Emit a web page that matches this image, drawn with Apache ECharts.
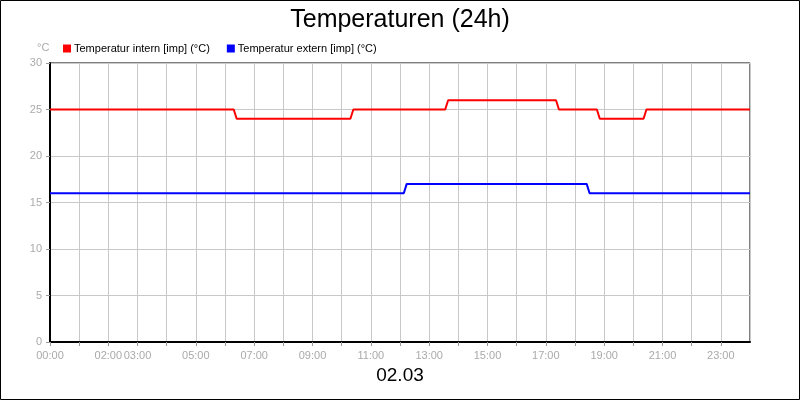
<!DOCTYPE html><html><head><meta charset="utf-8"><script src="https://cdn.jsdelivr.net/npm/echarts@6/dist/echarts.min.js"></script>
<style>html,body{margin:0;padding:0;background:#fff}#c{width:800px;height:400px}</style></head><body><div id="c"></div><script>
const title='Temperaturen (24h)';
const dateLabel='02.03';
const seriesNames=['Temperatur intern [imp] (°C)','Temperatur extern [imp] (°C)'];
const shownHours=[0,2,3,5,7,9,11,13,15,17,19,21,23];
// [hour, value]
const internHours=[0,6.3,6.4,10.3,10.4,13.55,13.65,17.35,17.45,18.75,18.85,20.35,20.45,24];
const internVals=[25,25,24,24,25,25,26,26,25,25,24,24,25,25];
const externHours=[0,12.13,12.23,18.4,18.5,24];
const externVals=[16,16,17,17,16,16];
const zip=(h,v)=>h.map((x,i)=>[x,v[i]]);
const pad=n=>(n<10?'0':'')+n;
const c=echarts.init(document.getElementById('c'));
c.setOption({
 animation:false,
 textStyle:{fontFamily:'Liberation Sans'},
 title:{text:title,left:'center',top:3,textStyle:{fontSize:25,fontWeight:'normal',color:'#000'}},
 graphic:[{type:'rect',shape:{x:0.5,y:0.5,width:799,height:399},style:{fill:'none',stroke:'#000',lineWidth:1}},
  {type:'text',left:'center',top:366,style:{text:dateLabel,fontSize:19,fill:'#000',fontFamily:'Liberation Sans'}},
  {type:'text',left:37,top:42,style:{text:'°C',fontSize:11,fill:'#aaa',fontFamily:'Liberation Sans'}}],
 legend:{left:58,top:38,itemWidth:8,itemHeight:8,itemGap:17,icon:'rect',textStyle:{fontSize:11,color:'#000',padding:[0,0,0,-2]},data:seriesNames},
 grid:{left:50,right:50,top:63,bottom:58,show:true,borderColor:'#000',borderWidth:1},
 xAxis:{type:'value',min:0,max:24,interval:1,
  axisLine:{lineStyle:{color:'#000',width:2}},axisTick:{show:true,length:4,lineStyle:{color:'#999'}},
  axisLabel:{color:'#aaa',fontSize:11,formatter:v=>shownHours.includes(v)?pad(v)+':00':'',showMaxLabel:false},
  splitLine:{show:true,lineStyle:{color:'#c8c8c8'}}},
 yAxis:{type:'value',min:0,max:30,interval:5,
  axisLine:{show:true,lineStyle:{color:'#000',width:2}},axisTick:{show:true,length:4,lineStyle:{color:'#999'}},
  axisLabel:{color:'#aaa',fontSize:11},splitLine:{lineStyle:{color:'#c8c8c8'}}},
 series:[
  {name:seriesNames[0],type:'line',data:zip(internHours,internVals),showSymbol:false,itemStyle:{color:'#f00'},lineStyle:{color:'#f00',width:2}},
  {name:seriesNames[1],type:'line',data:zip(externHours,externVals),showSymbol:false,itemStyle:{color:'#00f'},lineStyle:{color:'#00f',width:2}}
 ]
});
</script></body></html>
